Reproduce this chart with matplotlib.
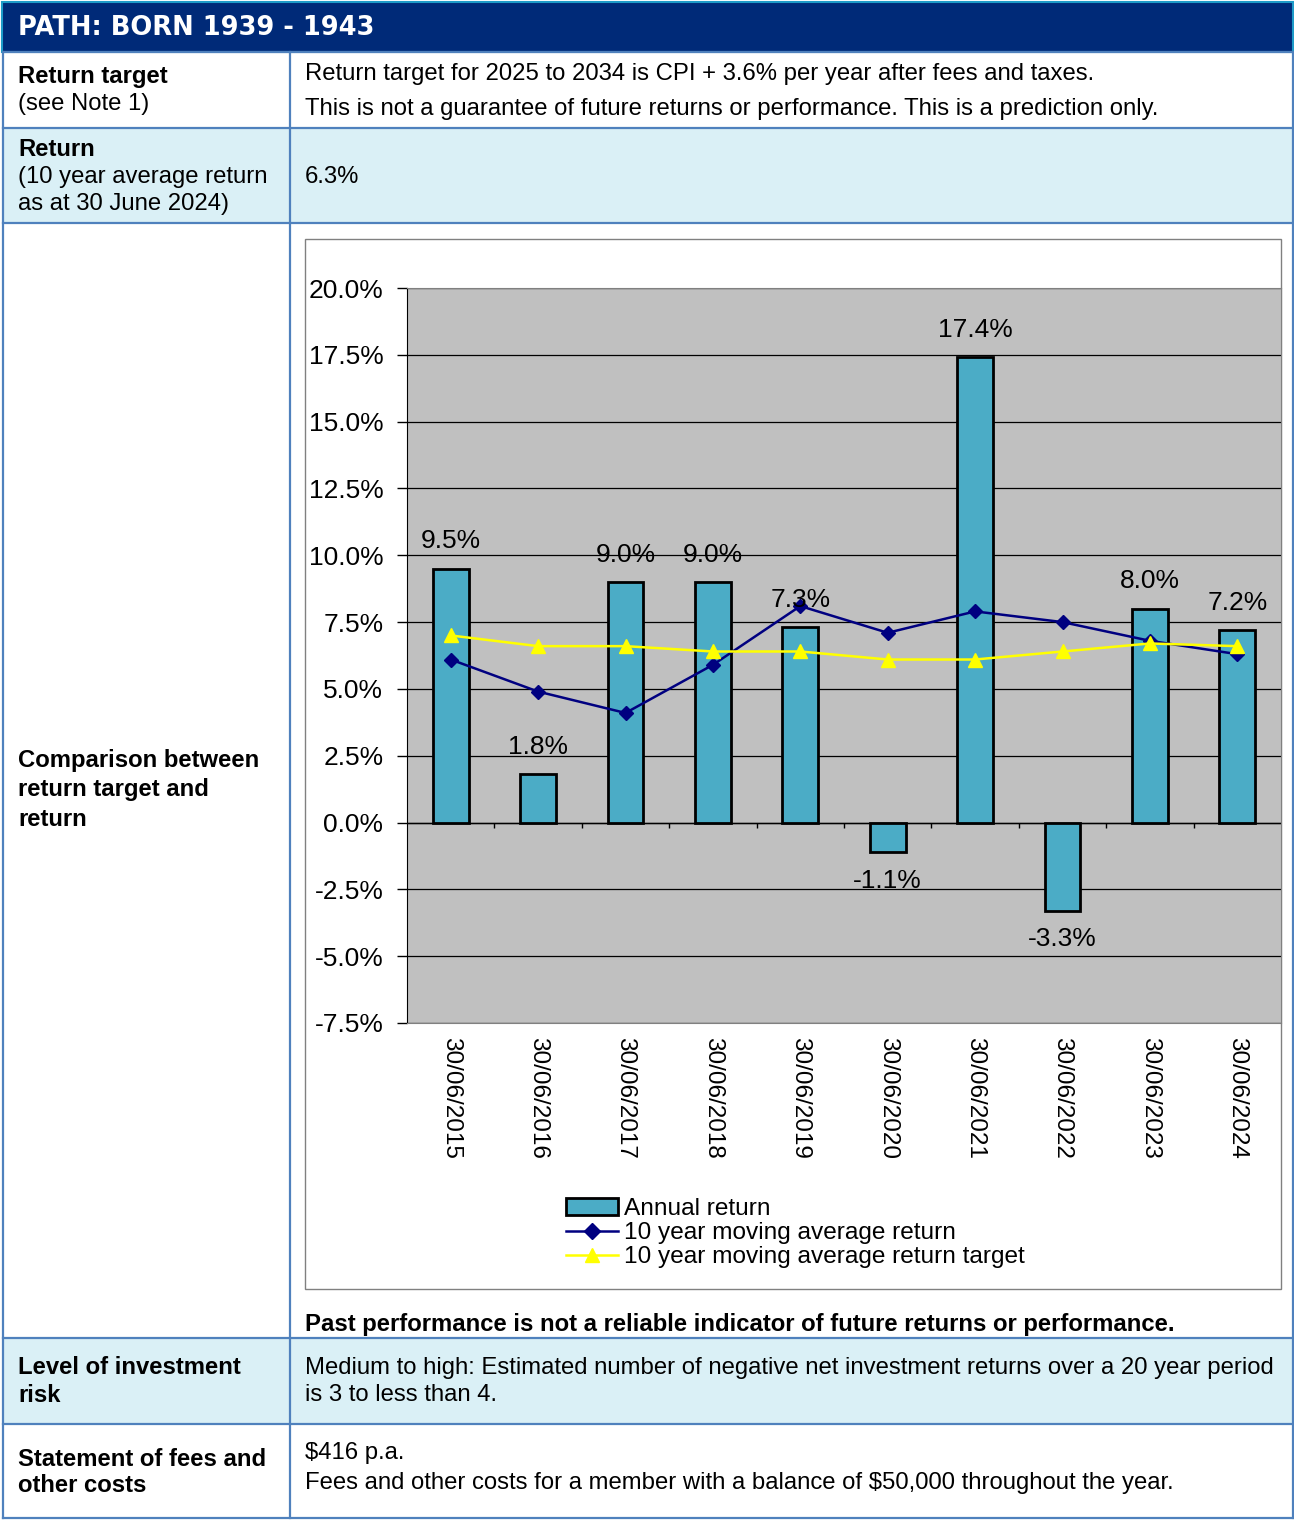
import numpy as np
import matplotlib
matplotlib.use('Agg')
import matplotlib.pyplot as plt
from matplotlib.patches import Rectangle, Patch
from matplotlib.lines import Line2D

plt.rcParams['font.family'] = ['Liberation Sans', 'DejaVu Sans']

# Annual returns and 10 year moving averages (%)
years = ['30/06/2015', '30/06/2016', '30/06/2017', '30/06/2018', '30/06/2019',
         '30/06/2020', '30/06/2021', '30/06/2022', '30/06/2023', '30/06/2024']
annual_return = [9.5, 1.8, 9.0, 9.0, 7.3, -1.1, 17.4, -3.3, 8.0, 7.2]
moving_avg = [6.1, 4.9, 4.1, 5.9, 8.1, 7.1, 7.9, 7.5, 6.8, 6.3]
moving_target = [7.0, 6.6, 6.6, 6.4, 6.4, 6.1, 6.1, 6.4, 6.7, 6.6]
yticks = [-7.5, -5.0, -2.5, 0.0, 2.5, 5.0, 7.5, 10.0, 12.5, 15.0, 17.5, 20.0]

W, H = 1294, 1522
fig = plt.figure(figsize=(W / 100, H / 100), dpi=100)

# page layer in pixel coordinates
bg = fig.add_axes([0, 0, 1, 1])
bg.set_xlim(0, W)
bg.set_ylim(H, 0)
bg.axis('off')

border = '#4F81BD'
light = '#DAF0F6'
col_x = 290

bg.add_patch(Rectangle((2, 2), W - 3, 50, facecolor='#002A78', edgecolor='#1E9BC8', lw=1.5))
bg.add_patch(Rectangle((3, 128), W - 5, 95, facecolor=light, edgecolor='none'))
bg.add_patch(Rectangle((3, 1338), W - 5, 86, facecolor=light, edgecolor='none'))
for y in [52, 128, 223, 1338, 1424, 1518]:
    bg.plot([3, W - 1], [y, y], color=border, lw=1.6)
bg.plot([3, 3], [52, 1518], color=border, lw=1.6)
bg.plot([W - 1, W - 1], [52, 1518], color=border, lw=1.6)
bg.plot([col_x, col_x], [52, 1518], color=border, lw=1.6)

bg.text(18, 28, 'PATH: BORN 1939 - 1943', color='white', fontsize=18.5,
        fontweight='heavy', va='center', family='DejaVu Sans')

fs = 17.2
lx, rx = 18, 305
bg.text(lx, 77, 'Return target', fontsize=fs, fontweight='bold', va='center')
bg.text(lx, 104, '(see Note 1)', fontsize=fs, va='center')
bg.text(rx, 74, 'Return target for 2025 to 2034 is CPI + 3.6% per year after fees and taxes.',
        fontsize=fs, va='center')
bg.text(rx, 109, 'This is not a guarantee of future returns or performance. This is a prediction only.',
        fontsize=fs, va='center')

bg.text(lx, 149, 'Return', fontsize=fs, fontweight='bold', va='center')
bg.text(lx, 177, '(10 year average return', fontsize=fs, va='center')
bg.text(lx, 204, 'as at 30 June 2024)', fontsize=fs, va='center')
bg.text(rx, 177, '6.3%', fontsize=fs, va='center')

for i, s in enumerate(['Comparison between', 'return target and', 'return']):
    bg.text(lx, 760 + 29.5 * i, s, fontsize=fs, fontweight='bold', va='center')

bg.text(rx, 1324, 'Past performance is not a reliable indicator of future returns or performance.',
        fontsize=fs, fontweight='bold', va='center')

bg.text(lx, 1368, 'Level of investment', fontsize=fs, fontweight='bold', va='center')
bg.text(lx, 1395, 'risk', fontsize=fs, fontweight='bold', va='center')
bg.text(rx, 1368, 'Medium to high: Estimated number of negative net investment returns over a 20 year period',
        fontsize=fs, va='center')
bg.text(rx, 1395, 'is 3 to less than 4.', fontsize=fs, va='center')

bg.text(lx, 1459, 'Statement of fees and', fontsize=fs, fontweight='bold', va='center')
bg.text(lx, 1486, 'other costs', fontsize=fs, fontweight='bold', va='center')
bg.text(rx, 1453, '$416 p.a.', fontsize=fs, va='center', parse_math=False)
bg.text(rx, 1483, 'Fees and other costs for a member with a balance of $50,000 throughout the year.',
        fontsize=fs, va='center', parse_math=False)

# chart frame
bg.add_patch(Rectangle((305, 239), 976, 1050, facecolor='white', edgecolor='#808080', lw=1))

# chart plot area
px0, py0, pw, ph = 407, 288, 874, 735
ax = fig.add_axes([px0 / W, 1 - (py0 + ph) / H, pw / W, ph / H])
ax.set_facecolor('#C0C0C0')
x = np.arange(len(years))

ax.set_ylim(-7.5, 20)
ax.set_xlim(-0.5, len(years) - 0.5)
ax.set_yticks(yticks)
ax.set_yticklabels(['%.1f%%' % v for v in yticks], fontsize=19)
ax.yaxis.grid(True, color='black', lw=0.9)
ax.set_axisbelow(True)
ax.tick_params(axis='y', direction='out', length=7, width=1, pad=10, color='black')

ax.set_xticks(x)
ax.set_xticklabels(years, rotation=270, fontsize=17.5, va='top', ha='center')
ax.tick_params(axis='x', length=0, pad=10)

for side in ['top', 'right', 'bottom']:
    ax.spines[side].set_color('#808080')
ax.spines['left'].set_color('black')

bars = ax.bar(x, annual_return, width=0.41, color='#4BACC6', edgecolor='black', lw=2,
              zorder=3, label='Annual return')

# category axis at zero with tick marks between categories
ax.axhline(0, color='black', lw=1, zorder=2)
tick_h = 5 / (ph / 27.5)
ax.vlines(x[:-1] + 0.5, -tick_h, 0, color='black', lw=1, zorder=2)

for xi, v in zip(x, annual_return):
    if v >= 0:
        ax.annotate('%.1f%%' % v, (xi, v), xytext=(0, 11), textcoords='offset points',
                    ha='center', va='bottom', fontsize=19, zorder=5)
    else:
        ax.annotate('%.1f%%' % v, (xi, v), xytext=(0, -12), textcoords='offset points',
                    ha='center', va='top', fontsize=19, zorder=5)

ax.plot(x, moving_avg, color='#000080', lw=1.8, marker='D', markersize=7.5, zorder=4,
        label='10 year moving average return')
ax.plot(x, moving_target, color='#FFFF00', lw=1.8, marker='^', markersize=10, zorder=4,
        label='10 year moving average return target')

handles = [Patch(facecolor='#4BACC6', edgecolor='black', lw=2),
           Line2D([], [], color='#000080', lw=1.8, marker='D', markersize=8),
           Line2D([], [], color='#FFFF00', lw=1.8, marker='^', markersize=10)]
labels = ['Annual return', '10 year moving average return', '10 year moving average return target']
fig.legend(handles, labels, loc='upper left', bbox_to_anchor=(554 / W, 1 - 1186 / H),
           frameon=False, fontsize=17.6, handlelength=2.13, handletextpad=0.25,
           labelspacing=0.08, borderpad=0, handleheight=0.7)

fig.savefig('out.png', dpi=100)
